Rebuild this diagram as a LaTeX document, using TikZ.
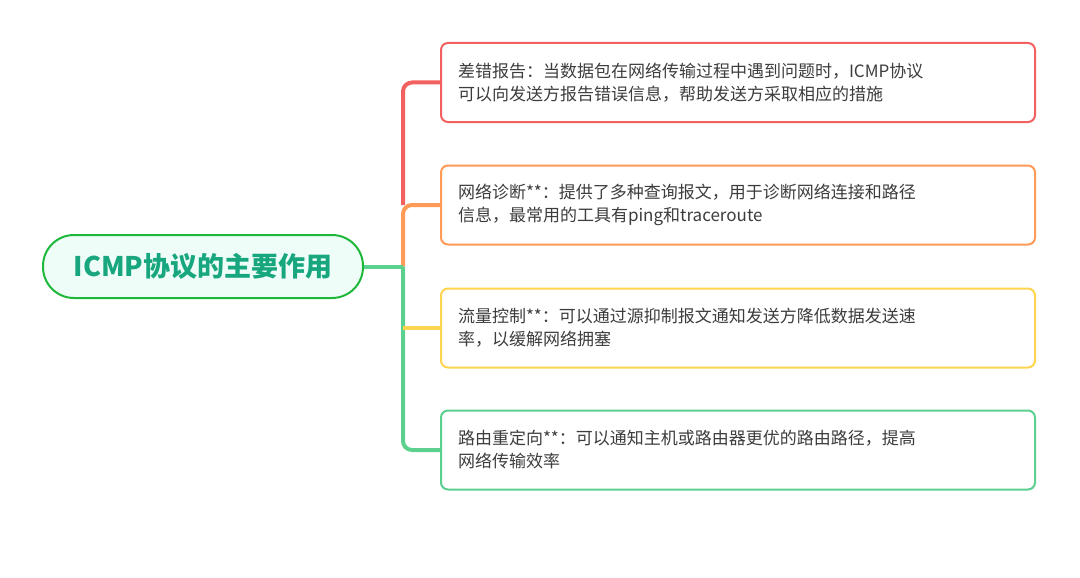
\documentclass[tikz,border=0pt]{standalone}
\usepackage{fontspec}
\setmainfont{Noto Sans CJK SC}
\usetikzlibrary{positioning}

\definecolor{rootline}{HTML}{1DB83A}
\definecolor{rootfill}{HTML}{EEFDF8}
\definecolor{roottext}{HTML}{17A67E}
\definecolor{cred}{HTML}{F2615F}
\definecolor{corange}{HTML}{FF9A57}
\definecolor{cyellow}{HTML}{FFD54F}
\definecolor{cgreen}{HTML}{5CD08E}
\definecolor{textgray}{HTML}{3D3D3D}

\tikzset{
  topic/.style={draw=rootline, fill=rootfill, line width=2pt, rounded corners=31pt,
    minimum width=320, minimum height=63, text=roottext,
    font=\fontsize{27}{32}\selectfont\bfseries},
  leaf/.style={draw=#1, fill=white, line width=2pt, rounded corners=7pt,
    minimum width=594, minimum height=79, text width=560, inner xsep=17pt,
    align=left, text=textgray, font=\fontsize{17}{23}\selectfont},
  link/.style={draw=#1, line width=4pt, rounded corners=9pt}
}

\begin{document}
\begin{tikzpicture}[x=1pt,y=-1pt]
\useasboundingbox (0,0) rectangle (1080,578);

\node[topic] (root) at (203,266.5) {ICMP协议的主要作用};

\node[leaf=cred] (err) at (738,82.5) {差错报告：当数据包在网络传输过程中遇到问题时，ICMP协议\\可以向发送方报告错误信息，帮助发送方采取相应的措施};
\node[leaf=corange] (diag) at (738,205) {网络诊断**：提供了多种查询报文，用于诊断网络连接和路径\\信息，最常用的工具有ping和traceroute};
\node[leaf=cyellow] (flow) at (738,328) {流量控制**：可以通过源抑制报文通知发送方降低数据发送速\\率，以缓解网络拥塞};
\node[leaf=cgreen] (redir) at (738,450) {路由重定向**：可以通知主机或路由器更优的路由路径，提高\\网络传输效率};

% trunk points
\coordinate (t1) at (403,82.5);
\coordinate (t2) at (403,205);
\coordinate (t0) at (403,266.5);
\coordinate (t3) at (403,328);
\coordinate (t4) at (403,450);

\draw[link=cred] (err.west) -- (t1) -- (t2);
\draw[link=corange] (diag.west) -- (t2) -- (t0);
\draw[link=cgreen] (t0) -- (t4) -- (redir.west);
\draw[link=cgreen] (root.east) -- (t0);
\draw[link=cyellow] (t3) -- (flow.west);
\end{tikzpicture}
\end{document}
